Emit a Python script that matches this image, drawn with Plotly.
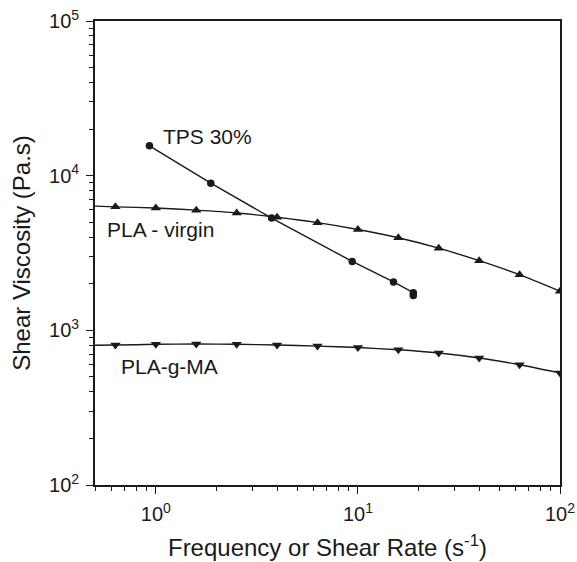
import numpy as np
import plotly.graph_objects as go

# Frequencies (s^-1)
freq = [0.631, 1.0, 1.585, 2.512, 3.981, 6.31, 10.0, 15.85, 25.12, 39.81, 63.1, 100.0]

# PLA - virgin (triangles up)
pla_virgin = [6285, 6180, 5985, 5740, 5385, 4970, 4490, 3970, 3400, 2820, 2290, 1790]
# PLA-g-MA (triangles down)
pla_gma = [803, 812, 816, 812, 803, 791, 774, 749, 714, 663, 599, 530]

# fitted curve start values at the left axis edge
fit_x0 = 0.5
pla_virgin_fit0 = 6350
pla_gma_fit0 = 800

# TPS 30% (circles)
tps_x = [0.93, 1.87, 3.74, 9.37, 15.0, 18.8, 18.8]
tps_y = [15600, 8940, 5320, 2790, 2056, 1750, 1680]

x_tickvals = [1, 10, 100]
x_ticktext = ["10<sup>0</sup>", "10<sup>1</sup>", "10<sup>2</sup>"]
y_tickvals = [100, 1000, 10000, 100000]
y_ticktext = ["10<sup>2</sup>", "10<sup>3</sup>", "10<sup>4</sup>", "10<sup>5</sup>"]

ink = "#1a1a1a"
FONT = "Liberation Sans, Arial, sans-serif"

fig = go.Figure()

# PLA virgin curve + markers
fig.add_trace(go.Scatter(x=[fit_x0] + freq, y=[pla_virgin_fit0] + pla_virgin,
                         mode="lines", line=dict(color=ink, width=1.4, shape="spline", smoothing=0.6),
                         showlegend=False, hoverinfo="skip"))
fig.add_trace(go.Scatter(x=freq, y=pla_virgin, mode="markers",
                         marker=dict(symbol="triangle-up", size=9, color=ink),
                         name="PLA - virgin", showlegend=False))

# PLA-g-MA curve + markers
fig.add_trace(go.Scatter(x=[fit_x0] + freq, y=[pla_gma_fit0] + pla_gma,
                         mode="lines", line=dict(color=ink, width=1.4, shape="spline", smoothing=0.6),
                         showlegend=False, hoverinfo="skip"))
fig.add_trace(go.Scatter(x=freq, y=pla_gma, mode="markers",
                         marker=dict(symbol="triangle-down", size=9, color=ink),
                         name="PLA-g-MA", showlegend=False))

# TPS 30%
fig.add_trace(go.Scatter(x=tps_x, y=tps_y, mode="lines+markers",
                         line=dict(color=ink, width=1.4),
                         marker=dict(symbol="circle", size=7.5, color=ink),
                         name="TPS 30%", showlegend=False))

labels = [
    ("TPS 30%", 1.07, 17800),
    ("PLA - virgin", 0.566, 4520),
    ("PLA-g-MA", 0.663, 580),
]
for txt, lx, ly in labels:
    fig.add_annotation(x=np.log10(lx), y=np.log10(ly), text=txt, showarrow=False,
                       xanchor="left", yanchor="middle", borderpad=0,
                       font=dict(family=FONT, size=21, color=ink))

axis_common = dict(
    type="log", showgrid=False, zeroline=False, automargin=False,
    showline=True, linecolor=ink, linewidth=1.8, mirror=True,
    ticks="outside", ticklen=7, tickwidth=1.3, tickcolor=ink,
    tickmode="array",
    tickfont=dict(family=FONT, size=20, color=ink),
    minor=dict(ticks="outside", ticklen=4, tickwidth=1.2, tickcolor=ink,
               dtick="D1", showgrid=False),
)

fig.update_layout(
    width=577, height=562,
    margin=dict(l=95, r=17, t=21, b=77),
    paper_bgcolor="white", plot_bgcolor="white",
    font=dict(family=FONT, color=ink),
    xaxis=dict(axis_common, range=[np.log10(0.5), 2],
               tickvals=x_tickvals, ticktext=x_ticktext, ticklabelstandoff=3,
               title=dict(text="Frequency or Shear Rate (s<sup>-1</sup>)",
                          font=dict(family=FONT, size=24, color=ink), standoff=15)),
    yaxis=dict(axis_common, range=[2, 5],
               tickvals=y_tickvals, ticktext=y_ticktext, ticklabelstandoff=3,
               title=dict(text="Shear Viscosity (Pa.s)",
                          font=dict(family=FONT, size=24, color=ink), standoff=12)),
)

fig.write_html(
    "out.html",
    config={"displayModeBar": False},
    post_script="document.body.style.margin='0px';"
                "document.documentElement.style.overflow='hidden';"
                "document.body.style.overflow='hidden';",
)
